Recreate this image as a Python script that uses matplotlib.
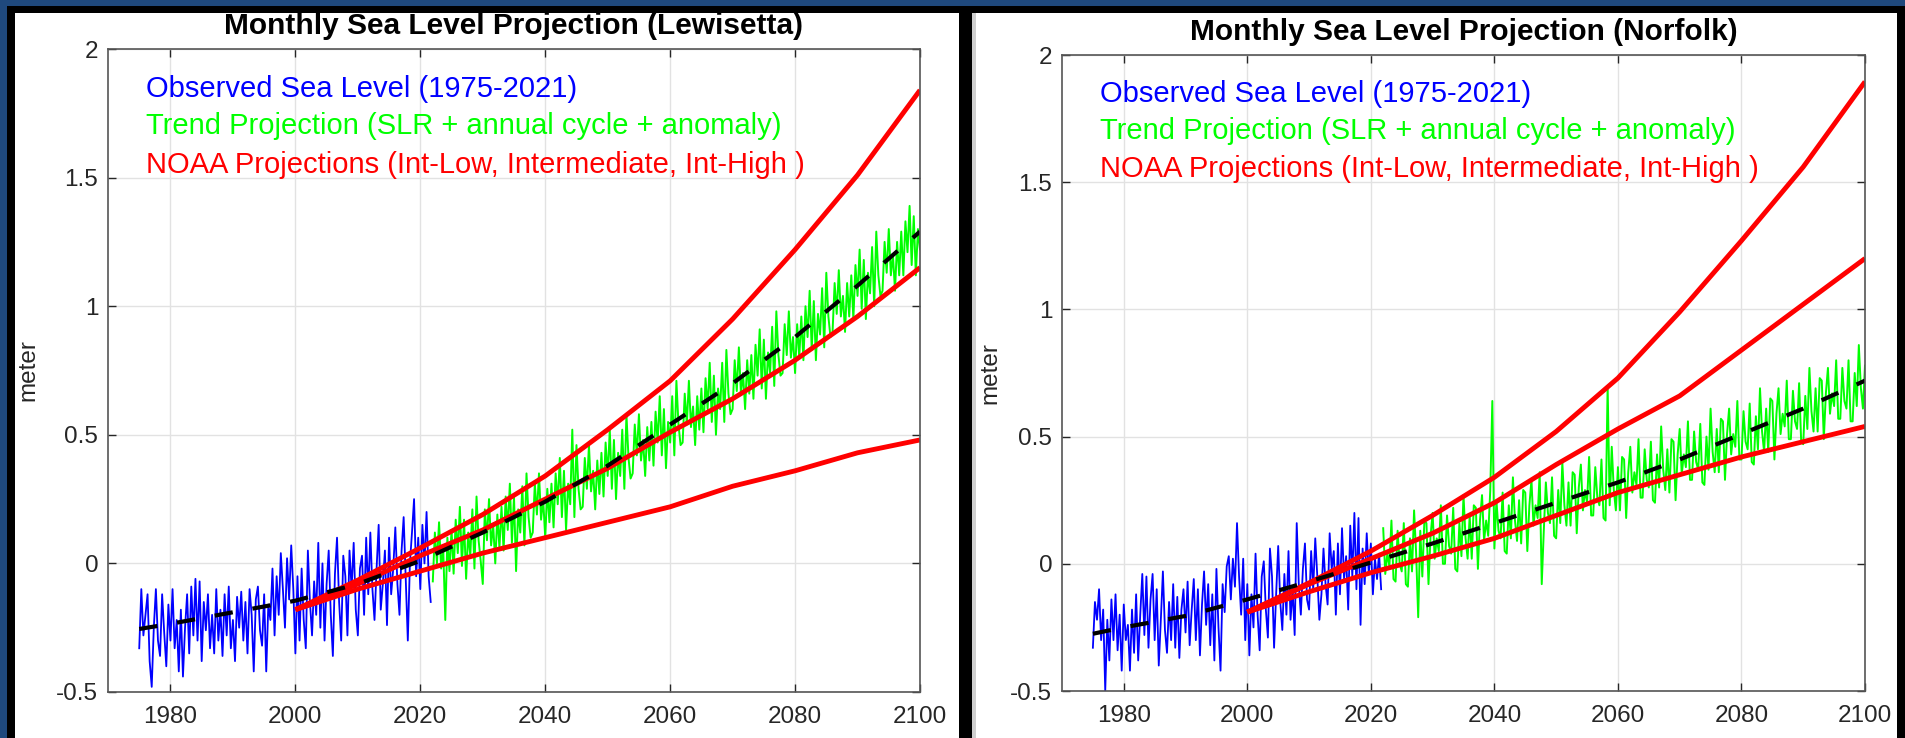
import numpy as np
import matplotlib
matplotlib.use('Agg')
import matplotlib.pyplot as plt
from matplotlib.patches import Rectangle

plt.rcParams['font.family'] = ['Liberation Sans', 'DejaVu Sans']

# ---- data ----
# observed monthly-ish sea level, 3 samples per year from 1975
lew_obs = [
    -0.33, -0.10, -0.28, -0.20, -0.12, -0.38, -0.48, -0.25, -0.10, -0.30, -0.36, -0.12,
    -0.27, -0.40, -0.16, -0.30, -0.10, -0.33, -0.22, -0.42, -0.18, -0.44, -0.25, -0.12,
    -0.35, -0.09, -0.28, -0.06, -0.30, -0.07, -0.38, -0.15, -0.26, -0.12, -0.33, -0.20,
    -0.35, -0.10, -0.30, -0.18, -0.36, -0.12, -0.28, -0.09, -0.33, -0.22, -0.38, -0.13,
    -0.25, -0.11, -0.30, -0.15, -0.35, -0.10, -0.20, -0.42, -0.14, -0.09, -0.26, -0.32,
    -0.12, -0.42, -0.16, -0.22, -0.02, -0.28, -0.05, -0.20, 0.04, -0.10, -0.25, 0.02,
    -0.14, 0.07, -0.10, -0.35, -0.05, -0.30, -0.02, -0.22, -0.33, 0.05, -0.15, -0.28,
    -0.07, -0.20, 0.08, -0.25, 0.00, -0.30, -0.08, 0.05, -0.20, -0.36, -0.04, 0.10,
    -0.15, -0.30, 0.03, -0.05, -0.28, 0.05, -0.10, 0.08, -0.18, -0.28, -0.02, 0.03,
    -0.20, 0.10, -0.12, 0.12, -0.10, -0.22, -0.02, 0.15, -0.18, -0.08, 0.05, -0.24,
    0.10, -0.12, -0.02, 0.14, -0.08, -0.20, 0.05, 0.18, -0.06, -0.30, 0.00, 0.12,
    0.25, -0.05, 0.10, -0.10, 0.15, 0.00, 0.20, -0.05, -0.15,
]
# trend projection, 3 samples per year from 2022
lew_proj = [
    -0.07, 0.12, 0.00, 0.16, -0.02, 0.06, -0.22, 0.10, -0.03, 0.13, -0.04, 0.17,
    0.04, 0.22, -0.01, 0.17, -0.06, 0.12, 0.03, 0.21, -0.02, 0.26, 0.09, 0.01,
    -0.08, 0.21, 0.09, 0.25, 0.07, 0.15, 0.00, 0.19, 0.06, 0.22, 0.05, 0.26,
    0.13, 0.31, 0.08, 0.26, -0.03, 0.21, 0.12, 0.30, 0.07, 0.35, 0.18, 0.10,
    0.12, 0.31, 0.19, 0.35, 0.17, 0.25, 0.10, 0.29, 0.16, 0.31, 0.14, 0.35,
    0.23, 0.41, 0.18, 0.36, 0.13, 0.31, 0.23, 0.52, 0.18, 0.46, 0.29, 0.21,
    0.22, 0.41, 0.29, 0.46, 0.28, 0.36, 0.21, 0.40, 0.27, 0.43, 0.26, 0.47,
    0.34, 0.52, 0.29, 0.48, 0.25, 0.43, 0.34, 0.52, 0.29, 0.58, 0.41, 0.33,
    0.35, 0.54, 0.42, 0.58, 0.40, 0.48, 0.34, 0.53, 0.40, 0.55, 0.38, 0.59,
    0.47, 0.65, 0.42, 0.60, 0.37, 0.55, 0.47, 0.65, 0.42, 0.71, 0.54, 0.46,
    0.47, 0.66, 0.54, 0.71, 0.53, 0.61, 0.46, 0.65, 0.52, 0.68, 0.51, 0.72,
    0.60, 0.78, 0.55, 0.73, 0.50, 0.68, 0.60, 0.78, 0.55, 0.83, 0.66, 0.58,
    0.60, 0.79, 0.67, 0.84, 0.66, 0.74, 0.60, 0.79, 0.66, 0.81, 0.64, 0.85,
    0.73, 0.91, 0.68, 0.87, 0.64, 0.82, 0.74, 0.92, 0.69, 0.98, 0.81, 0.73,
    0.74, 0.93, 0.81, 0.98, 0.80, 0.88, 0.74, 0.93, 0.80, 0.96, 0.79, 1.00,
    0.88, 1.06, 0.83, 1.02, 0.79, 0.97, 0.89, 1.07, 0.84, 1.13, 0.96, 0.88,
    0.90, 1.09, 0.97, 1.14, 0.96, 1.04, 0.90, 1.09, 0.96, 1.12, 0.95, 1.16,
    1.04, 1.22, 0.99, 1.18, 0.95, 1.13, 1.05, 1.23, 1.00, 1.29, 1.12, 1.04,
    1.06, 1.25, 1.13, 1.30, 1.12, 1.20, 1.06, 1.25, 1.12, 1.29, 1.12, 1.33,
    1.21, 1.39, 1.16, 1.35, 1.12, 1.30, 1.22, 1.47, 1.17,
]
nor_obs = [
    -0.33, -0.15, -0.22, -0.10, -0.30, -0.18, -0.50, -0.22, -0.38, -0.14, -0.30, -0.12,
    -0.34, -0.20, -0.42, -0.16, -0.30, -0.24, -0.42, -0.18, -0.35, -0.12, -0.38, -0.20,
    -0.04, -0.28, -0.05, -0.33, -0.14, -0.04, -0.30, -0.10, -0.40, -0.22, -0.03, -0.26,
    -0.35, -0.15, -0.30, -0.08, -0.33, -0.13, -0.37, -0.18, -0.10, -0.27, -0.07, -0.32,
    -0.18, -0.06, -0.30, -0.10, -0.36, -0.16, -0.03, -0.24, -0.08, -0.32, -0.12, -0.38,
    -0.02, -0.25, -0.42, -0.08, -0.19, -0.01, 0.03, -0.14, 0.02, -0.09, 0.16, -0.05,
    -0.20, 0.02, -0.30, -0.08, -0.36, -0.12, -0.25, 0.04, -0.20, -0.34, -0.05, 0.01,
    -0.18, -0.29, 0.06, -0.05, -0.33, -0.12, 0.07, -0.15, -0.26, -0.04, -0.20, 0.05,
    -0.22, -0.10, -0.28, 0.16, -0.08, -0.20, -0.02, 0.08, -0.14, -0.18, 0.05, -0.10,
    0.10, -0.05, -0.22, -0.12, 0.06, -0.08, -0.16, 0.12, -0.02, 0.05, -0.20, 0.08,
    -0.12, 0.14, -0.06, 0.03, -0.18, 0.15, -0.05, 0.20, -0.10, 0.18, -0.24, 0.06,
    -0.08, 0.12, -0.04, 0.08, -0.12, 0.02, -0.06, 0.04, -0.10,
]
nor_proj = [
    0.14, -0.04, 0.04, -0.01, 0.17, -0.06, -0.07, 0.13, 0.00, -0.03, 0.16, -0.08,
    -0.09, 0.10, -0.03, 0.21, 0.04, -0.21, 0.13, -0.05, 0.17, 0.16, -0.08, 0.11,
    0.20, 0.02, 0.10, 0.05, 0.23, 0.00, 0.00, 0.19, 0.07, 0.04, 0.22, -0.02,
    -0.03, 0.16, 0.03, 0.27, 0.10, 0.02, 0.19, 0.02, 0.23, 0.22, -0.02, 0.17,
    0.27, 0.09, 0.17, 0.11, 0.29, 0.64, 0.06, 0.25, 0.13, 0.10, 0.28, 0.05,
    0.04, 0.23, 0.10, 0.34, 0.17, 0.09, 0.25, 0.08, 0.29, 0.28, 0.05, 0.23,
    0.33, 0.15, 0.23, 0.18, 0.36, -0.08, 0.13, 0.32, 0.20, 0.16, 0.34, 0.11,
    0.10, 0.29, 0.16, 0.40, 0.23, 0.15, 0.32, 0.15, 0.36, 0.35, 0.12, 0.30,
    0.39, 0.21, 0.29, 0.24, 0.42, 0.19, 0.19, 0.38, 0.26, 0.23, 0.41, 0.18,
    0.17, 0.70, 0.23, 0.46, 0.29, 0.21, 0.38, 0.21, 0.42, 0.41, 0.18, 0.36,
    0.46, 0.28, 0.36, 0.31, 0.49, 0.26, 0.26, 0.45, 0.33, 0.30, 0.48, 0.25,
    0.24, 0.43, 0.30, 0.54, 0.37, 0.29, 0.45, 0.28, 0.49, 0.48, 0.25, 0.43,
    0.53, 0.35, 0.43, 0.38, 0.56, 0.33, 0.33, 0.52, 0.40, 0.37, 0.55, 0.32,
    0.31, 0.50, 0.37, 0.61, 0.44, 0.36, 0.53, 0.36, 0.57, 0.56, 0.33, 0.51,
    0.61, 0.43, 0.51, 0.46, 0.64, 0.41, 0.41, 0.60, 0.48, 0.45, 0.63, 0.40,
    0.39, 0.58, 0.45, 0.69, 0.52, 0.44, 0.61, 0.44, 0.65, 0.64, 0.41, 0.59,
    0.69, 0.51, 0.59, 0.54, 0.72, 0.49, 0.49, 0.68, 0.56, 0.53, 0.71, 0.48,
    0.47, 0.66, 0.53, 0.77, 0.60, 0.52, 0.69, 0.52, 0.73, 0.72, 0.49, 0.67,
    0.77, 0.59, 0.67, 0.62, 0.80, 0.57, 0.57, 0.77, 0.64, 0.61, 0.80, 0.56,
    0.56, 0.75, 0.62, 0.86, 0.69, 0.61, 0.78, 0.61, 0.82,
]

trend_years = [1975, 1980, 1990, 2000, 2010, 2020, 2030, 2040, 2050, 2060, 2070, 2080, 2090, 2100]
lew_trend = [-0.255, -0.235, -0.19, -0.145, -0.08, 0.01, 0.12, 0.24, 0.38, 0.54, 0.70, 0.88, 1.08, 1.29]
nor_trend = [-0.275, -0.25, -0.205, -0.14, -0.07, 0.005, 0.08, 0.16, 0.24, 0.32, 0.41, 0.51, 0.61, 0.72]

noaa_years = [2000, 2010, 2020, 2030, 2040, 2050, 2060, 2070, 2080, 2090, 2100]
lew_low = [-0.18, -0.10, -0.03, 0.04, 0.10, 0.16, 0.22, 0.30, 0.36, 0.43, 0.48]
lew_mid = [-0.18, -0.08, 0.03, 0.13, 0.25, 0.37, 0.51, 0.64, 0.79, 0.96, 1.15]
lew_high = [-0.18, -0.065, 0.06, 0.19, 0.34, 0.52, 0.71, 0.95, 1.22, 1.51, 1.84]
nor_low = [-0.19, -0.11, -0.035, 0.03, 0.10, 0.19, 0.28, 0.35, 0.42, 0.48, 0.54]
nor_mid = [-0.19, -0.08, 0.02, 0.12, 0.24, 0.39, 0.53, 0.66, 0.84, 1.02, 1.20]
nor_high = [-0.19, -0.075, 0.05, 0.19, 0.34, 0.52, 0.73, 0.99, 1.27, 1.56, 1.895]

labels = ['Observed Sea Level (1975-2021)',
          'Trend Projection (SLR + annual cycle + anomaly)',
          'NOAA Projections (Int-Low, Intermediate, Int-High )']

W, H = 1905, 738
fig = plt.figure(figsize=(W / 100, H / 100), dpi=100, facecolor='#1f497d')


def px_rect(x0, y0, x1, y1, color):
    # rectangle given in pixel coords (origin top-left)
    fig.add_artist(Rectangle((x0 / W, 1 - y1 / H), (x1 - x0) / W, (y1 - y0) / H,
                             transform=fig.transFigure, color=color, zorder=-5, lw=0))


px_rect(7, 6, W, H, 'black')
px_rect(15, 13, 959, H, 'white')
px_rect(972, 13, 1897, H, 'white')
px_rect(972, 13, 976, H, '#cfcfcf')


def panel(rect, title, obs, proj, trend, low, mid, high):
    ax = fig.add_axes([rect[0] / W, 1 - rect[3] / H, (rect[2] - rect[0]) / W, (rect[3] - rect[1]) / H])
    obs_x = 1975 + np.arange(len(obs)) / 3
    proj_x = 2022 + np.arange(len(proj)) / 3
    ax.plot(obs_x, obs, color=(0, 0, 1), lw=1.3)
    ax.plot(proj_x, proj, color=(0, 1, 0), lw=1.4)
    for r in (low, mid, high):
        ax.plot(noaa_years, r, color=(1, 0, 0), lw=3.5, solid_capstyle='butt')
    ax.plot(trend_years, trend, color='black', lw=3, dashes=(4.4, 4.8))

    ax.set_xlim(1970, 2100)
    ax.set_ylim(-0.5, 2)
    ax.set_xticks([1980, 2000, 2020, 2040, 2060, 2080, 2100])
    ax.set_yticks([-0.5, 0, 0.5, 1, 1.5, 2])
    ax.set_yticklabels(['-0.5', '0', '0.5', '1', '1.5', '2'])
    ax.grid(True, color='#e2e2e2', lw=1)
    ax.set_axisbelow(True)
    ax.tick_params(direction='in', top=True, right=True, length=6, width=1,
                   colors='#262626', labelsize=17.5)
    ax.tick_params(axis='y', pad=7)
    ax.tick_params(axis='x', pad=10)
    for s in ax.spines.values():
        s.set_color('#555555')
        s.set_linewidth(1.2)

    ax.set_title(title, fontsize=21.5, fontweight='bold', pad=11)
    ax.set_ylabel('meter', fontsize=17.5, color='#262626')
    for txt, c, y in zip(labels, [(0, 0, 1), (0, 1, 0), (1, 0, 0)], [0.938, 0.880, 0.820]):
        ax.text(0.047, y, txt, color=c, fontsize=21, va='center', transform=ax.transAxes)
    return ax


ax1 = panel((108, 49, 920, 692), 'Monthly Sea Level Projection (Lewisetta)',
            lew_obs, lew_proj, lew_trend, lew_low, lew_mid, lew_high)
ax1.yaxis.set_label_coords(-0.085, 0.5)
ax2 = panel((1062, 55, 1865, 691), 'Monthly Sea Level Projection (Norfolk)',
            nor_obs, nor_proj, nor_trend, nor_low, nor_mid, nor_high)
ax2.yaxis.set_label_coords(-0.076, 0.5)

fig.savefig('out.png', dpi=100, facecolor=fig.get_facecolor())
